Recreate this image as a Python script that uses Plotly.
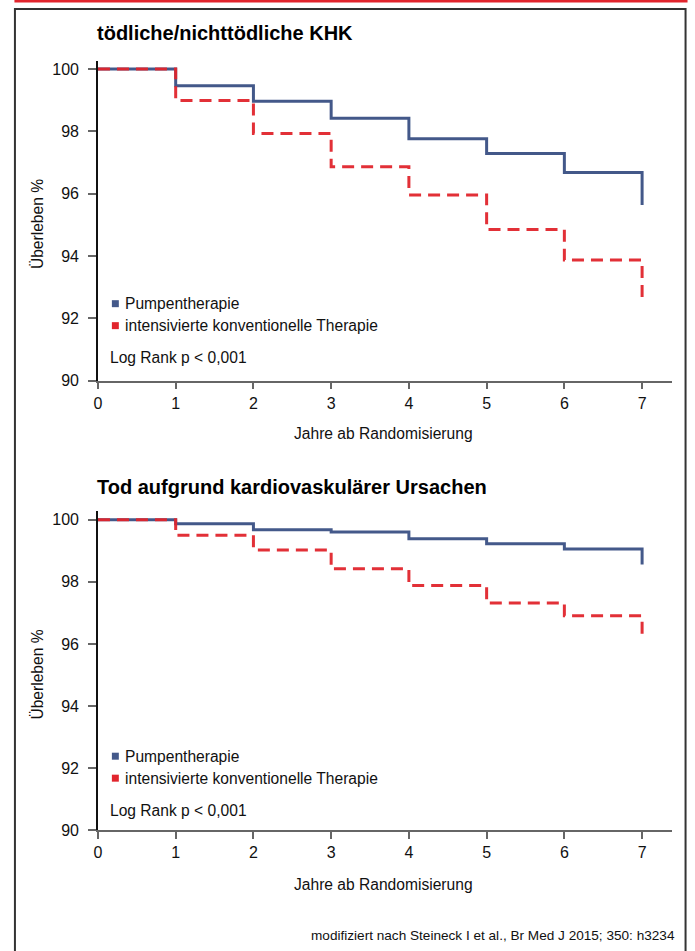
import plotly.graph_objects as go

# ---- data ----
years = [0, 1, 2, 3, 4, 5, 6, 7]
# KHK (top panel): interval values 0-1 ... 6-7, then value after final drop at year 7
khk_pumpe = [100.0, 99.46, 98.97, 98.42, 97.76, 97.29, 96.68, 95.64]
khk_ict = [100.0, 98.99, 97.93, 96.86, 95.96, 94.85, 93.87, 92.67]
# cardiovascular death (bottom panel)
cv_pumpe = [100.0, 99.87, 99.68, 99.61, 99.39, 99.23, 99.06, 98.56]
cv_ict = [100.0, 99.50, 99.03, 98.42, 97.88, 97.32, 96.91, 96.33]

x_ticks = [0, 1, 2, 3, 4, 5, 6, 7]
y_ticks = [90, 92, 94, 96, 98, 100]

titles = ["tödliche/nichttödliche KHK", "Tod aufgrund kardiovaskulärer Ursachen"]
series_names = ["Pumpentherapie", "intensivierte konventionelle Therapie"]
x_title = "Jahre ab Randomisierung"
y_title = "Überleben %"
pvalue_text = "Log Rank p < 0,001"
source_text = "modifiziert nach Steineck I et al., Br Med J 2015; 350: h3234"

# ---- style ----
W, H = 695, 951
H_EFF = 943.0
X_OFF = 1.5
FONT = "Liberation Sans, Arial, sans-serif"
BLUE = "#44598a"
RED = "#e1252d"
TXT = 15.6


def px(xp):
    return (xp - X_OFF) / W


def py(yp):
    return 1 - yp / H_EFF


fig = go.Figure()

panels = [
    dict(p=khk_pumpe, i=khk_ict, xa="x", ya="y", top=61, bottom=381, ymax=100.26),
    dict(p=cv_pumpe, i=cv_ict, xa="x2", ya="y2", top=512, bottom=831, ymax=100.27),
]

for pn in panels:
    fig.add_trace(go.Scatter(x=years, y=pn["p"], mode="lines", line_shape="hv",
                             line=dict(color=BLUE, width=3), xaxis=pn["xa"], yaxis=pn["ya"],
                             showlegend=False, name=series_names[0]))
    fig.add_trace(go.Scatter(x=years, y=pn["i"], mode="lines", line_shape="hv",
                             line=dict(color=RED, width=3, dash="12px,7px"),
                             xaxis=pn["xa"], yaxis=pn["ya"], showlegend=False,
                             name=series_names[1], opacity=0.95))

axis_common = dict(showgrid=False, zeroline=False, showline=True, ticks="outside",
                   tickfont=dict(family=FONT, size=16, color="#111"), fixedrange=True)

xl, xr = 96, 673
layout = dict(
    width=W, height=H, margin=dict(l=0, r=0, t=0, b=0),
    paper_bgcolor="white", plot_bgcolor="white",
    font=dict(family=FONT, color="#111"),
)
for k, pn in enumerate(panels):
    sfx = "" if k == 0 else "2"
    layout["xaxis" + sfx] = dict(axis_common, domain=[px(xl), px(xr)], range=[0, 7.38],
                                 tickvals=x_ticks, linecolor="#666", linewidth=1.5,
                                 tickcolor="#666", ticklen=7, tickwidth=1.5,
                                 anchor="y" + sfx)
    layout["yaxis" + sfx] = dict(axis_common, domain=[py(pn["bottom"]), py(pn["top"])],
                                 range=[90, pn["ymax"]], tickvals=y_ticks,
                                 linecolor="#111", linewidth=1.5, tickcolor="#666",
                                 ticklen=8, tickwidth=1.5, ticklabelstandoff=6,
                                 anchor="x" + sfx)
fig.update_layout(**layout)

ann = []
shapes = []
# frame and red top rule
shapes.append(dict(type="rect", xref="paper", yref="paper", x0=px(12.5), x1=px(687),
                   y0=-0.02, y1=py(9), line=dict(color="#333", width=2)))
shapes.append(dict(type="line", xref="paper", yref="paper", x0=px(12), x1=px(689),
                   y0=py(1), y1=py(1), line=dict(color=RED, width=3)))

title_y = [33, 488]
xt_y = [434, 885]
yt_c = [224, 675]
leg_y = [[304, 326], [757, 779]]
pv_y = [358, 811]
for k in range(2):
    ann.append(dict(text="<b>%s</b>" % titles[k], x=px(93), y=py(title_y[k]), xref="paper",
                    yref="paper", xanchor="left", yanchor="middle", showarrow=False,
                    font=dict(family=FONT, size=20, color="#000")))
    ann.append(dict(text=x_title, x=px(383), y=py(xt_y[k]), xref="paper", yref="paper",
                    xanchor="center", yanchor="middle", showarrow=False,
                    font=dict(family=FONT, size=TXT, color="#111")))
    ann.append(dict(text=y_title, x=px(35), y=py(yt_c[k]), xref="paper", yref="paper",
                    xanchor="center", yanchor="middle", showarrow=False, textangle=-90,
                    font=dict(family=FONT, size=TXT, color="#111")))
    for j, col in enumerate([BLUE, RED]):
        yc = leg_y[k][j]
        shapes.append(dict(type="rect", xref="paper", yref="paper", x0=px(110), x1=px(117),
                           y0=py(yc + 3.5), y1=py(yc - 3.5), fillcolor=col, line=dict(width=0)))
        ann.append(dict(text=series_names[j], x=px(121), y=py(yc), xref="paper", yref="paper",
                        xanchor="left", yanchor="middle", showarrow=False,
                        font=dict(family=FONT, size=TXT, color="#111")))
    ann.append(dict(text=pvalue_text, x=px(106), y=py(pv_y[k]), xref="paper", yref="paper",
                    xanchor="left", yanchor="middle", showarrow=False,
                    font=dict(family=FONT, size=TXT, color="#111")))

ann.append(dict(text=source_text, x=px(678), y=py(936), xref="paper", yref="paper",
                xanchor="right", yanchor="middle", showarrow=False,
                font=dict(family=FONT, size=13.6, color="#111")))

fig.update_layout(annotations=ann, shapes=shapes)
fig.write_html("out.html", config={"displayModeBar": False},
               post_script="document.body.style.margin='0';document.body.style.overflow='hidden';")
